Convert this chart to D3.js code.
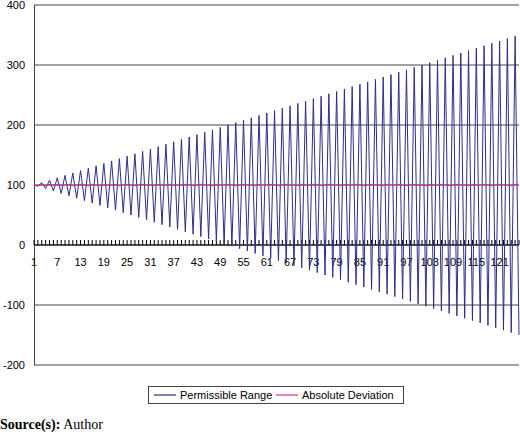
<!DOCTYPE html>
<html><head><meta charset="utf-8">
<script src="https://cdn.jsdelivr.net/npm/d3@7"></script>
<style>body{margin:0;background:#fff}</style>
</head><body>
<svg id="chart" width="520" height="435"></svg>
<script>
// permissible range, one value per period (1..126)
var permissible = [100,98,104,94,108,90,112,86,116,82,120,78,124,74,128,70,132,66,136,62,140,58,144,54,148,50,152,46,156,42,160,38,164,34,168,30,172,26,176,22,180,18,184,14,188,10,192,6,196,2,200,-2,204,-6,208,-10,212,-14,216,-18,220,-22,224,-26,228,-30,232,-34,236,-38,240,-42,244,-46,248,-50,252,-54,256,-58,260,-62,264,-66,268,-70,272,-74,276,-78,280,-82,284,-86,288,-90,292,-94,296,-98,300,-102,304,-106,308,-110,312,-114,316,-118,320,-122,324,-126,328,-130,332,-134,336,-138,340,-142,344,-146,348,-150];
var deviation = [100,99,101,99,101,100,101,99,100,101,99,100,101,100,99,101,100,99,101,100,100,101,99,100,101,100,99,100,101,100,100,99,101,100,100,101,99,100,100,101,100,99,100,101,100,100,99,101,100,100,101,100,99,100,101,100,100,99,101,100,100,101,100,99,100,101,100,100,99,101,100,100,101,100,99,100,101,100,100,99,101,100,100,101,100,99,100,101,100,100,99,101,100,100,101,100,99,100,101,100,100,99,101,100,100,101,100,99,100,101,100,100,99,101,100,100,101,100,99,100,101,100,100,99,101,100];
var yTicks = [-200,-100,0,100,200,300,400];
var xLabels = [1,7,13,19,25,31,37,43,49,55,61,67,73,79,85,91,97,103,109,115,121];
var seriesNames = ["Permissible Range","Absolute Deviation"];
var seriesColors = ["#2e2e88","#cc3399"];

var svg = d3.select("#chart");
var x = d3.scaleLinear().domain([1, permissible.length]).range([34, 519]);
var y = d3.scaleLinear().domain([-200, 400]).range([365, 5]);

// gridlines
svg.append("g").selectAll("line").data(yTicks).enter().append("line")
  .attr("x1", 34).attr("x2", 519)
  .attr("y1", function(d){return y(d);}).attr("y2", function(d){return y(d);})
  .attr("stroke", "#444").attr("stroke-width", 1);
svg.append("line").attr("x1", 34.5).attr("x2", 34.5).attr("y1", y(400)).attr("y2", y(-200))
  .attr("stroke", "#444");

// y labels
svg.append("g").selectAll("text").data(yTicks).enter().append("text")
  .attr("x", 25).attr("y", function(d){return y(d) + 4;})
  .attr("text-anchor", "end").attr("font-family", "Arial, Liberation Sans, sans-serif")
  .attr("font-size", 11).text(function(d){return d;});

// category ticks along zero
svg.append("g").selectAll("line").data(d3.range(1, permissible.length + 1)).enter().append("line")
  .attr("x1", function(d){return x(d);}).attr("x2", function(d){return x(d);})
  .attr("y1", y(0)).attr("y2", y(0) - 5)
  .attr("stroke", "#000").attr("stroke-width", 1);
svg.append("line").attr("x1", 34).attr("x2", 519).attr("y1", y(0)).attr("y2", y(0))
  .attr("stroke", "#000");
svg.append("g").selectAll("text").data(xLabels).enter().append("text")
  .attr("x", function(d){return x(d);}).attr("y", y(0) + 21)
  .attr("text-anchor", "middle").attr("font-family", "Arial, Liberation Sans, sans-serif")
  .attr("font-size", 11).text(function(d){return d;});

var line = d3.line().x(function(d, i){return x(i + 1);}).y(function(d){return y(d);});
svg.append("path").datum(permissible).attr("d", line).attr("fill", "none")
  .attr("stroke", seriesColors[0]).attr("stroke-width", 1);
svg.append("path").datum(deviation).attr("d", line).attr("fill", "none")
  .attr("stroke", seriesColors[1]).attr("stroke-width", 1.2);

// legend
var lg = svg.append("g");
lg.append("rect").attr("x", 148.5).attr("y", 386.5).attr("width", 255).attr("height", 17)
  .attr("fill", "#fff").attr("stroke", "#444");
var lx = [154, 276];
seriesNames.forEach(function(n, i){
  lg.append("line").attr("x1", lx[i]).attr("x2", lx[i] + 22).attr("y1", 395).attr("y2", 395)
    .attr("stroke", seriesColors[i]).attr("stroke-width", 1.2);
  lg.append("text").attr("x", lx[i] + 26).attr("y", 399)
    .attr("font-family", "Arial, Liberation Sans, sans-serif").attr("font-size", 11).text(n);
});

var src = svg.append("text").attr("x", 0).attr("y", 429)
  .attr("font-family", "Liberation Serif, Times New Roman, serif").attr("font-size", 14);
src.append("tspan").attr("font-weight", "bold").text("Source(s):");
src.append("tspan").text(" Author");
</script>
</body></html>
